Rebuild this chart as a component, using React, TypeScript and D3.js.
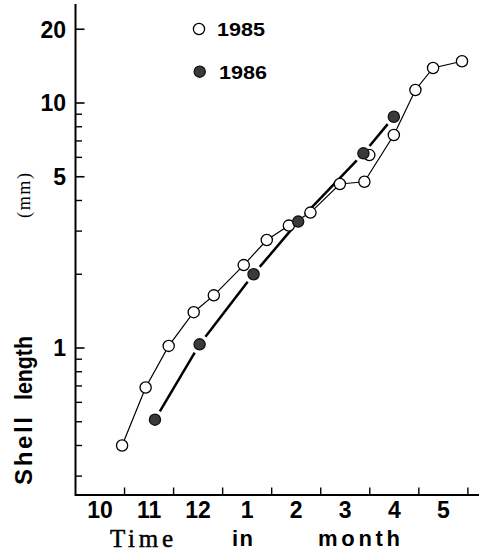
import React from "react";
import * as d3 from "d3";

// months counted from 1 October; shell length in mm
const months1985 = [0.95, 1.43, 1.9, 2.41, 2.82, 3.43, 3.9, 4.35, 4.79, 5.39, 5.89, 6.49, 6.93, 7.29, 7.88];
const length1985 = [0.4, 0.69, 1.02, 1.4, 1.64, 2.18, 2.76, 3.16, 3.57, 4.67, 4.77, 7.4, 11.3, 13.9, 14.8];
// 1985 sample hidden behind a 1986 point, not joined by the line
const loneMonth1985 = [5.99];
const loneLength1985 = [6.13];

const months1986 = [1.62, 2.53, 3.63, 4.54, 5.87, 6.49];
const length1986 = [0.51, 1.035, 2.0, 3.28, 6.23, 8.79];

const monthLabels = ["10", "11", "12", "1", "2", "3", "4", "5"];
const majorTicks = [1, 5, 10, 20];
const minorTicks = [0.3, 0.4, 0.5, 0.6, 0.7, 0.8, 0.9, 2, 3, 4, 6, 7, 8, 9];

const W = 481;
const H = 553;
const axisX = 75.5;
const axisY = 495;
const r = 5.6;
const sans = "'Liberation Sans', Arial, sans-serif";
const serif = "'Liberation Serif', 'Times New Roman', serif";

export default function App() {
  const x = d3.scaleLinear().domain([0, 8.2]).range([axisX, 477.7]);
  const y = d3.scaleLog().domain([1, 10]).range([348, 103]);

  const p85 = months1985.map((m, i) => [x(m), y(length1985[i])]);
  const p86 = months1986.map((m, i) => [x(m), y(length1986[i])]);

  // 1986 line: segments with a gap around each dot
  const seg86 = d3.pairs(p86).map(([a, b]) => {
    const dx = b[0] - a[0];
    const dy = b[1] - a[1];
    const len = Math.hypot(dx, dy);
    const k = (r + 4) / len;
    return [a[0] + dx * k, a[1] + dy * k, b[0] - dx * k, b[1] - dy * k];
  });

  const line = d3.line();

  return (
    <svg
      width={W}
      height={H}
      style={{ position: "absolute", left: 0, top: 0, background: "#fff" }}
    >
      {/* axes */}
      <line x1={axisX} x2={axisX} y1={4} y2={axisY + 1} stroke="#000" strokeWidth={2} />
      <line x1={axisX} x2={479} y1={axisY} y2={axisY} stroke="#000" strokeWidth={2} />

      {majorTicks.map((v) => (
        <g key={"M" + v}>
          <line x1={axisX} x2={axisX + 9} y1={y(v)} y2={y(v)} stroke="#000" strokeWidth={1.6} />
          <text
            x={66}
            y={y(v)}
            dy="0.36em"
            textAnchor="end"
            fontFamily={sans}
            fontWeight="bold"
            fontSize={23}
          >
            {v}
          </text>
        </g>
      ))}
      {minorTicks.map((v) => (
        <line key={"m" + v} x1={axisX} x2={axisX + 6.5} y1={y(v)} y2={y(v)} stroke="#000" strokeWidth={1.4} />
      ))}

      {d3.range(1, 9).map((m) => (
        <line key={"t" + m} x1={x(m)} x2={x(m)} y1={axisY} y2={axisY - 7.5} stroke="#000" strokeWidth={1.4} />
      ))}
      {monthLabels.map((lab, i) => (
        <text
          key={"l" + i}
          x={x(i + 0.5)}
          y={518}
          textAnchor="middle"
          fontFamily={sans}
          fontWeight="bold"
          fontSize={23}
        >
          {lab}
        </text>
      ))}

      <text
        x={110}
        y={546.5}
        fontFamily={serif}
        fontSize={25}
        textLength={63}
        lengthAdjust="spacing"
        stroke="#000"
        strokeWidth={0.5}
      >
        Time
      </text>
      <text x={232} y={546} fontFamily={sans} fontWeight="bold" fontSize={22} textLength={21} lengthAdjust="spacing">
        in
      </text>
      <text x={318} y={546} fontFamily={sans} fontWeight="bold" fontSize={22} textLength={82} lengthAdjust="spacing">
        month
      </text>

      <g fontFamily={sans} fontWeight="bold" fontSize={24}>
        <text transform="translate(32,485) rotate(-90)" textLength={68} lengthAdjust="spacing">
          Shell
        </text>
        <text transform="translate(32,400) rotate(-90)" textLength={64} lengthAdjust="spacingAndGlyphs">
          length
        </text>
      </g>
      <text
        transform="translate(30,218) rotate(-90)"
        fontFamily={serif}
        fontSize={18}
        textLength={45}
        lengthAdjust="spacing"
      >
        (mm)
      </text>

      {/* 1985 */}
      <path d={line(p85) || ""} fill="none" stroke="#000" strokeWidth={1.2} />

      {/* 1986 */}
      {seg86.map((s, i) => (
        <line key={"s" + i} x1={s[0]} y1={s[1]} x2={s[2]} y2={s[3]} stroke="#000" strokeWidth={2.5} />
      ))}

      {loneMonth1985.map((m, i) => (
        <circle key={"o" + i} cx={x(m)} cy={y(loneLength1985[i])} r={r} fill="#fff" stroke="#000" strokeWidth={1.3} />
      ))}
      {p85.map((p, i) => (
        <circle key={"a" + i} cx={p[0]} cy={p[1]} r={r} fill="#fff" stroke="#000" strokeWidth={1.3} />
      ))}
      {p86.map((p, i) => (
        <circle key={"b" + i} cx={p[0]} cy={p[1]} r={r} fill="#3a3a3a" stroke="#111" strokeWidth={1.3} />
      ))}

      {/* legend */}
      <circle cx={199} cy={29} r={r} fill="#fff" stroke="#000" strokeWidth={1.3} />
      <text x={217} y={35.5} fontFamily={sans} fontWeight="bold" fontSize={19} textLength={48} lengthAdjust="spacingAndGlyphs">
        1985
      </text>
      <circle cx={199.7} cy={71.7} r={r} fill="#3a3a3a" stroke="#111" strokeWidth={1.3} />
      <text x={219} y={79} fontFamily={sans} fontWeight="bold" fontSize={19} textLength={48} lengthAdjust="spacingAndGlyphs">
        1986
      </text>
    </svg>
  );
}
